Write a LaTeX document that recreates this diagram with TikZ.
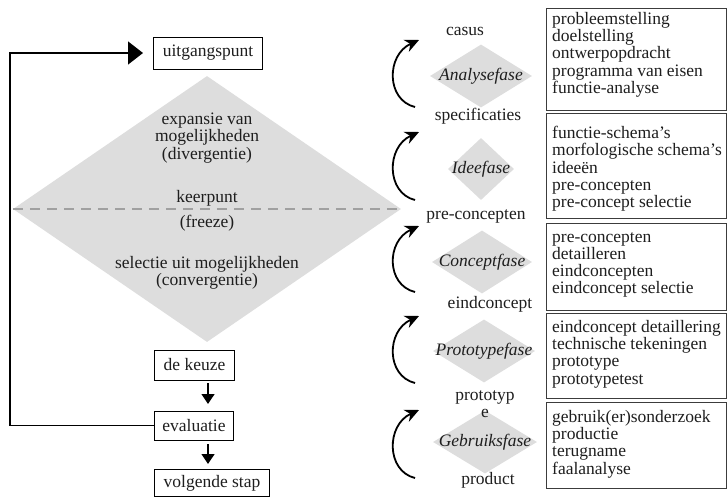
\documentclass[tikz,border=0pt]{standalone}
\usepackage{fontspec}
\setmainfont{Liberation Serif}
\usetikzlibrary{shapes.geometric,arrows.meta}
\definecolor{fillgray}{RGB}{221,221,221}
\definecolor{dashgray}{RGB}{160,160,160}
\definecolor{boxline}{RGB}{60,60,60}
\definecolor{txt}{RGB}{30,30,30}
\begin{document}
\begin{tikzpicture}[x=1pt,y=-1pt,
  every node/.style={text=txt},
  base/.style={font=\fontsize{17.5}{17.3}\selectfont},
  flowbox/.style={base, draw=black, line width=1pt, inner sep=0pt, anchor=west},
  bigdia/.style={diamond, fill=fillgray, inner sep=0pt, minimum width=388pt, minimum height=266pt},
  phasedia/.style={diamond, fill=fillgray, inner sep=0pt, minimum height=63pt},
  phasetxt/.style={font=\fontsize{17.5}{17.3}\selectfont\itshape},
  listbox/.style={draw=boxline, line width=1.1pt, anchor=north west, minimum width=180pt, inner sep=0pt},
  listtxt/.style={base, align=left, anchor=north west, inner sep=0pt},
  lbl/.style={base, inner sep=0pt},
  loopline/.style={line width=1.3pt, draw=black},
  downarrow/.style={line width=1.3pt, -{Triangle[length=10pt,width=13pt]}},
  curvearrow/.style={line width=1.8pt, -{Stealth[length=14pt,width=13pt]}}
]
\useasboundingbox (0,0) rectangle (728,498);

% big diamond
\node[bigdia] (big) at (207,209) {};
\draw[dashgray, line width=1.8pt, dash pattern=on 10pt off 7pt] (big.west) -- (big.east);
\node[lbl, align=center] (expansie) at (207,138) {expansie van\\mogelijkheden\\(divergentie)};
\node[lbl] (keer) at (207,198) {keerpunt};
\node[lbl] (freeze) at (207,223) {(freeze)};
\node[lbl, align=center] (selectie) at (207,273) {selectie uit mogelijkheden\\(convergentie)};

% flow boxes
\node[flowbox, minimum width=109pt, minimum height=32pt] (uitg) at (153,53) {uitgangspunt};
\node[flowbox, minimum width=80pt, minimum height=30pt] (keuze) at (154,365) {de keuze};
\node[flowbox, minimum width=79pt, minimum height=29pt] (eval) at (154,425.5) {evaluatie};
\node[flowbox, minimum width=115pt, minimum height=27pt] (volg) at (154,483) {volgende stap};

\coordinate (k1) at (208,383);
\coordinate (k2) at (208,404);
\coordinate (e1) at (208,444);
\coordinate (e2) at (208,464);
\draw[downarrow] (k1) -- (k2);
\draw[downarrow] (e1) -- (e2);

\coordinate (cb) at (10,425.5);
\coordinate (ct) at (10,53);
\draw[loopline, -{Triangle[length=15pt,width=23pt]}, shorten >=10pt]
  (eval.west) -- (cb) -- (ct) -- (uitg.west);

% phase diamonds
\node[phasedia, minimum width=102pt, label={[phasetxt]center:Analysefase}] (ana) at (481,76) {};
\node[phasedia, minimum width=66pt, minimum height=62pt, label={[phasetxt]center:Ideefase}] (idee) at (481,169) {};
\node[phasedia, minimum width=100pt, label={[phasetxt]center:Conceptfase}] (conc) at (482,262) {};
\node[phasedia, minimum width=102pt, label={[phasetxt]center:Prototypefase}] (proto) at (484,351) {};
\node[phasedia, minimum width=104pt, label={[phasetxt]center:Gebruiksfase}] (gebr) at (485,442) {};

% labels between phases
\node[lbl] (casus) at (465,31) {casus};
\node[lbl] (spec) at (478,116) {specificaties};
\node[lbl] (prec) at (476,216) {pre-concepten};
\node[lbl] (eindc) at (490,304) {eindconcept};
\node[lbl, align=center] (prot) at (485,404) {prototyp\\e};
\node[lbl] (prod) at (488,480) {product};

% curved arrows
\foreach \n/\yb/\yt in {1/107/40, 2/200/132, 3/292/226, 4/383/316, 5/478/410}{
  \coordinate (s\n) at (415,\yb);
  \coordinate (t\n) at (419,\yt);
  \draw[curvearrow] (s\n) .. controls (386,\yb-7) and (386,\yt+15) .. (t\n);
}

% list boxes
\node[listbox, minimum height=102pt] (b1) at (546,8) {};
\node[listbox, minimum height=105pt] (b2) at (546,113) {};
\node[listbox, minimum height=87pt] (b3) at (546,223) {};
\node[listbox, minimum height=85pt] (b4) at (546,313) {};
\node[listbox, minimum height=86pt] (b5) at (546,402) {};

\node[listtxt] (l1) at (552,12) {probleemstelling\\doelstelling\\ontwerpopdracht\\programma van eisen\\functie-analyse};
\node[listtxt] (l2) at (552,126) {functie-schema’s\\morfologische schema’s\\ideeën\\pre-concepten\\pre-concept selectie};
\node[listtxt] (l3) at (552,232) {pre-concepten\\detailleren\\eindconcepten\\eindconcept selectie};
\node[listtxt] (l4) at (552,320) {eindconcept detaillering\\technische tekeningen\\prototype\\prototypetest};
\node[listtxt] (l5) at (552,410) {gebruik(er)sonderzoek\\productie\\terugname\\faalanalyse};
\end{tikzpicture}
\end{document}
